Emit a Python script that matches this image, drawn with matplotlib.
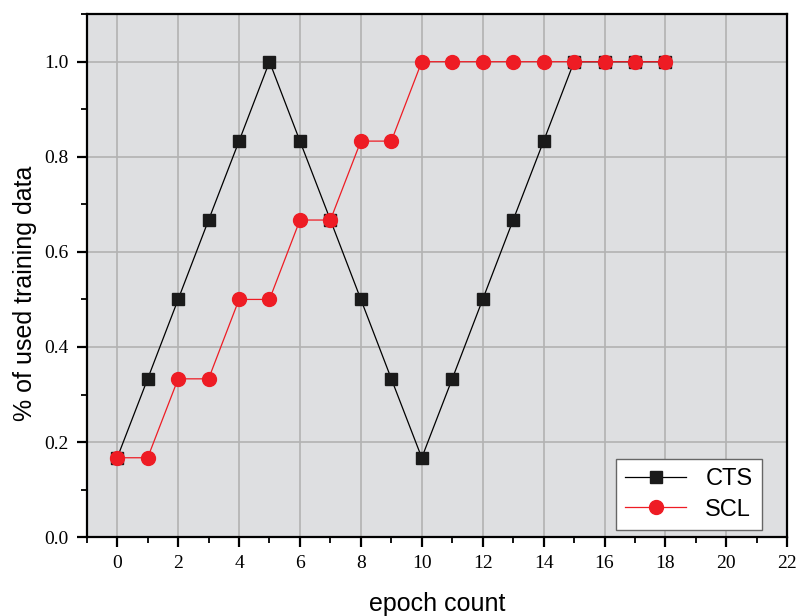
import numpy as np
import matplotlib as mpl
mpl.use("agg")
import matplotlib.pyplot as plt
from matplotlib.ticker import MultipleLocator

epochs = list(range(19))
cts = [0.167, 0.333, 0.5, 0.667, 0.833, 1.0, 0.833, 0.667, 0.5, 0.333,
       0.167, 0.333, 0.5, 0.667, 0.833, 1.0, 1.0, 1.0, 1.0]
scl = [0.167, 0.167, 0.333, 0.333, 0.5, 0.5, 0.667, 0.667, 0.833, 0.833,
       1.0, 1.0, 1.0, 1.0, 1.0, 1.0, 1.0, 1.0, 1.0]

fig = plt.figure(figsize=(7.96, 6.16), dpi=100)
ax = fig.add_axes([0.109, 0.128, 0.88, 0.849])
ax.set_facecolor("#dedfe1")

ax.plot(epochs, cts, "-s", color="black", lw=0.9, ms=8, mfc="#1a1a1a",
        mec="#1a1a1a", label="CTS", zorder=3)
ax.plot(epochs, scl, "-o", color="#ee1c24", lw=0.9, ms=10, mfc="#ee1c24",
        mec="#ee1c24", label="SCL", zorder=4)

ax.set_xlim(-1, 22)
ax.set_ylim(0, 1.1)
ax.xaxis.set_major_locator(MultipleLocator(2))
ax.xaxis.set_minor_locator(MultipleLocator(1))
ax.yaxis.set_minor_locator(MultipleLocator(0.1))
ax.set_yticks(np.arange(0, 1.01, 0.2))
ax.set_yticklabels([f"{v:.1f}" for v in np.arange(0, 1.01, 0.2)])
ax.grid(True, which="major", color="#b2b2b2", lw=1.2, zorder=0)
ax.set_axisbelow(True)

ax.tick_params(which="major", direction="out", length=7, width=1.6,
               labelsize=14, labelfontfamily="Liberation Serif", pad=6)
ax.tick_params(which="minor", direction="out", length=4, width=1.3)
for s in ax.spines.values():
    s.set_linewidth(1.6)

ax.set_xlabel("epoch count", fontsize=18, family="Liberation Sans", labelpad=14)
ax.set_ylabel("% of used training data", fontsize=18, family="Liberation Sans",
              labelpad=5, y=0.467)

leg = ax.legend(loc="lower right", bbox_to_anchor=(0.974, 0.0),
                borderaxespad=0.3,
                prop={"family": "Liberation Sans", "size": 17},
                fancybox=False, framealpha=1, edgecolor="#666666",
                handlelength=2.6, borderpad=0.4, labelspacing=0.35)
leg.get_frame().set_linewidth(1.0)

fig.savefig("out.png", dpi=100)
